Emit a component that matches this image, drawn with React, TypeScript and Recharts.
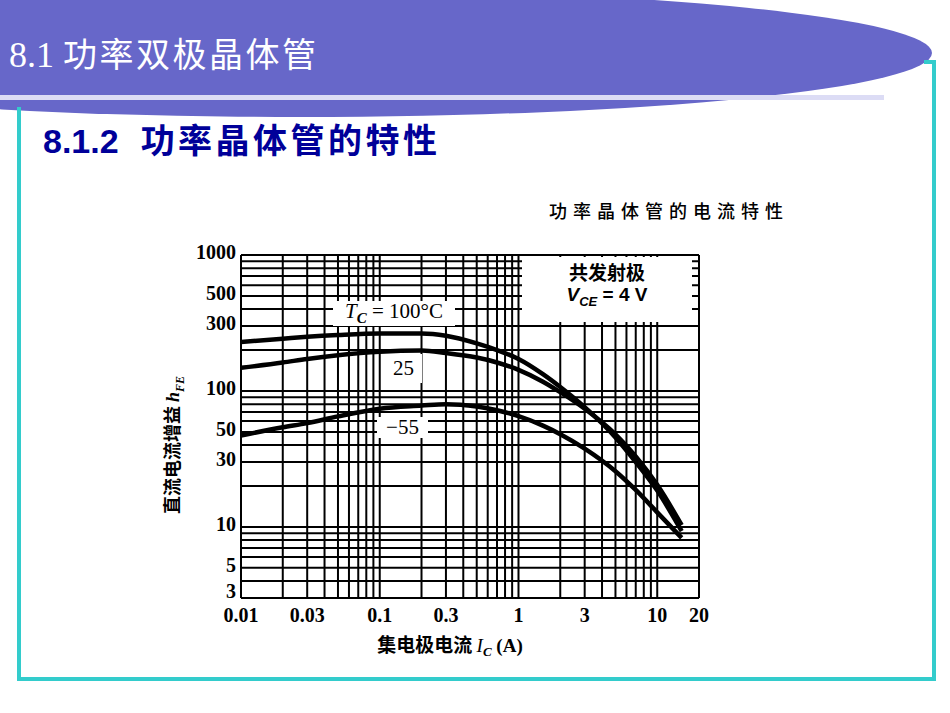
import { LineChart, Line, XAxis, YAxis, ReferenceLine } from "recharts";

// collector current Ic (A) and dc gain hFE per case temperature
const current = [0.01, 0.02, 0.03, 0.05, 0.1, 0.2, 0.3, 0.5, 0.7, 1, 1.5, 2, 3, 5, 7, 10, 15];
const gain100 = [229, 242, 250, 258, 265, 265, 255, 224, 200, 172, 133, 107, 76, 45.5, 30, 18.5, 9.3];
const gain25 = [148, 162, 172, 183, 194, 198, 190, 176, 162, 143, 117, 98, 74, 48, 33, 20.4, 10.3];
const gainMinus55 = [47, 54, 58, 65, 74, 78, 80, 76.8, 72.2, 65.3, 55.6, 48.1, 37.7, 25.7, 18.7, 12.8, 8.3];

const xTicks = [0.01, 0.03, 0.1, 0.3, 1, 3, 10, 20];
const yTicks = [3, 5, 10, 30, 50, 100, 300, 500, 1000];

// graph paper lines
const xGrid = [
  0.02, 0.03, 0.04, 0.05, 0.06, 0.07, 0.08, 0.09, 0.1,
  0.2, 0.3, 0.4, 0.5, 0.6, 0.7, 0.8, 0.9, 1,
  2, 3, 4, 5, 6, 7, 8, 9, 10, 20,
];
const yGrid = [
  4, 5, 6, 7, 8, 9, 10, 20, 30, 40, 50, 60, 70, 80, 90, 100,
  200, 300, 400, 500, 600, 700, 800, 900, 1000,
];

const rows = current.map((ic, i) => ({
  ic,
  t100: gain100[i],
  t25: gain25[i],
  tm55: gainMinus55[i],
}));

const serif = "'Liberation Serif', 'DejaVu Serif', serif";
const sans = "'Liberation Sans', Arial, sans-serif";
const cjk = "'Noto Sans CJK SC', sans-serif";
const tickStyle = { fill: "#000", fontFamily: serif, fontWeight: 700, fontSize: 20 };

const YTick = (p: any) => (
  <text
    x={p.x}
    y={p.y + (p.payload.value === 3 ? -7 : -3)}
    textAnchor="end"
    dominantBaseline="central"
    style={tickStyle}
  >
    {p.payload.value}
  </text>
);

const XTick = (p: any) => (
  <text x={p.x} y={p.y + 17} textAnchor="middle" dominantBaseline="central" style={tickStyle}>
    {p.payload.value}
  </text>
);

const box = (left: number, top: number, width: number, height: number) => ({
  position: "absolute" as const,
  left,
  top,
  width,
  height,
  background: "#fff",
  display: "flex",
  alignItems: "center",
  justifyContent: "center",
  fontFamily: serif,
  color: "#000",
});

export default function App() {
  return (
    <div style={{ position: "absolute", left: 0, top: 0, width: 950, height: 713, background: "#fff", overflow: "hidden" }}>
      <svg width={950} height={713} style={{ position: "absolute", left: 0, top: 0 }}>
        <ellipse cx={300} cy={53} rx={632} ry={64} fill="#6767C9" />
        <rect x={0} y={95} width={884} height={5} fill="#DCDCF5" />
        <path d="M19 107 V679 H934 V62 H924" stroke="#33CCCC" strokeWidth={4} fill="none" />
      </svg>
      <div style={{ position: "absolute", left: 9, top: 28, color: "#fff", fontSize: 34, whiteSpace: "nowrap" }}>
        <span style={{ fontFamily: serif, fontSize: 36 }}>8.1 </span>
        <span style={{ fontFamily: cjk, letterSpacing: 2.5 }}>功率双极晶体管</span>
      </div>
      <div style={{ position: "absolute", left: 43, top: 114, color: "#000099", fontWeight: 700, whiteSpace: "nowrap" }}>
        <span style={{ fontFamily: sans, fontSize: 34 }}>8.1.2</span>
        <span style={{ fontFamily: cjk, fontSize: 34, marginLeft: 22, letterSpacing: 3.5 }}>功率晶体管的特性</span>
      </div>
      <div style={{ position: "absolute", left: 549, top: 197, fontFamily: cjk, fontWeight: 500, fontSize: 18, letterSpacing: 6, color: "#000", whiteSpace: "nowrap" }}>
        功率晶体管的电流特性
      </div>

      <div style={{ position: "absolute", left: 0, top: 0 }}>
        <LineChart width={950} height={713} data={rows} margin={{ top: 255, right: 251, bottom: 85, left: 181 }}>
          <XAxis
            dataKey="ic"
            type="number"
            scale="log"
            domain={[0.01, 20]}
            ticks={xTicks}
            tick={<XTick />}
            tickLine={false}
            tickSize={0}
            tickMargin={0}
            axisLine={{ stroke: "#000", strokeWidth: 2 }}
            allowDataOverflow
            height={30}
          />
          <YAxis
            type="number"
            scale="log"
            domain={[3, 1000]}
            ticks={yTicks}
            tick={<YTick />}
            tickLine={false}
            tickSize={0}
            tickMargin={5}
            axisLine={{ stroke: "#000", strokeWidth: 2 }}
            allowDataOverflow
            width={60}
          />
          {xGrid.map((v) => (
            <ReferenceLine key={"x" + v} x={v} stroke="#000" strokeWidth={2} />
          ))}
          {yGrid.map((v) => (
            <ReferenceLine key={"y" + v} y={v} stroke="#000" strokeWidth={2} />
          ))}
          <Line dataKey="t100" type="monotone" stroke="#000" strokeWidth={4.5} dot={false} isAnimationActive={false} />
          <Line dataKey="t25" type="monotone" stroke="#000" strokeWidth={4.5} dot={false} isAnimationActive={false} />
          <Line dataKey="tm55" type="monotone" stroke="#000" strokeWidth={4.5} dot={false} isAnimationActive={false} />
        </LineChart>
      </div>

      {/* curve labels and legend box */}
      <div style={{ ...box(333, 301, 122, 25), fontSize: 21 }}>
        <span style={{ whiteSpace: "nowrap" }}>
          <i>T</i>
          <sub style={{ fontSize: 15, fontStyle: "italic", fontWeight: 700 }}>C</sub>
          &nbsp;= 100°C
        </span>
      </div>
      <div style={{ ...box(385, 354, 37, 29), fontSize: 21 }}>25</div>
      <div style={{ ...box(377, 417, 51, 21), fontSize: 21 }}>−55</div>
      <div style={{ ...box(522, 257, 170, 65), flexDirection: "column", fontWeight: 700 }}>
        <div style={{ fontFamily: cjk, fontSize: 19, lineHeight: "24px", marginTop: -6 }}>共发射极</div>
        <div style={{ fontFamily: sans, fontSize: 19, lineHeight: "22px", whiteSpace: "nowrap" }}>
          <span>
            <i>V</i>
            <sub style={{ fontSize: 13, fontStyle: "italic" }}>CE</sub>
            {" = 4 V"}
          </span>
        </div>
      </div>

      <div
        style={{
          position: "absolute",
          left: 173,
          top: 445,
          transform: "translate(-50%, -50%) rotate(-90deg)",
          fontFamily: cjk,
          fontWeight: 700,
          fontSize: 18,
          whiteSpace: "nowrap",
          color: "#000",
        }}
      >
        直流电流增益 <i style={{ fontFamily: serif }}>h</i>
        <sub style={{ fontFamily: serif, fontStyle: "italic", fontSize: 12 }}>FE</sub>
      </div>
      <div
        style={{
          position: "absolute",
          left: 450,
          top: 645,
          transform: "translate(-50%, -50%)",
          fontFamily: cjk,
          fontWeight: 700,
          fontSize: 19,
          whiteSpace: "nowrap",
          color: "#000",
        }}
      >
        集电极电流 <i style={{ fontFamily: serif, fontWeight: 400 }}>I</i>
        <sub style={{ fontFamily: serif, fontStyle: "italic", fontSize: 13 }}>C</sub>
        <span style={{ fontFamily: serif }}> (A)</span>
      </div>
    </div>
  );
}
